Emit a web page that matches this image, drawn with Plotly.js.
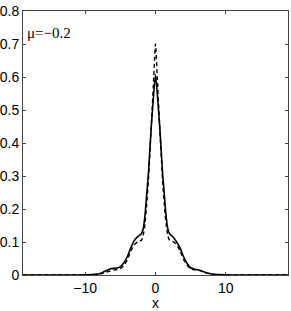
<!DOCTYPE html>
<html>
<head>
<meta charset="utf-8">
<script src="https://cdn.plot.ly/plotly-3.0.1.min.js"></script>
<style>html,body{margin:0;padding:0;background:#fff;}#chart{width:291px;height:311px;}</style>
</head>
<body>
<div id="chart"></div>
<script>
// x grid (shared)
const xVals = [-18.85, -14, -12, -10, -9, -8, -7.5, -7, -6.5, -6, -5.5, -5, -4.5, -4, -3.5, -3, -2.5, -2, -1.75, -1.5, -1.25, -1, -0.75, -0.5, -0.25, 0,
               0.25, 0.5, 0.75, 1, 1.25, 1.5, 1.75, 2, 2.5, 3, 3.5, 4, 4.5, 5, 5.5, 6, 6.5, 7, 7.5, 8, 9, 10, 12, 14, 18.85];
// solid curve
const solidVals = [0, 0, 0, 0.0005, 0.001, 0.004, 0.008, 0.013, 0.018, 0.02, 0.021, 0.025, 0.037, 0.056, 0.083, 0.105, 0.117, 0.125, 0.14, 0.18, 0.245, 0.31, 0.40, 0.48, 0.55, 0.607,
                   0.55, 0.48, 0.40, 0.31, 0.245, 0.18, 0.14, 0.125, 0.115, 0.10, 0.082, 0.055, 0.035, 0.022, 0.018, 0.016, 0.013, 0.009, 0.005, 0.003, 0.001, 0.0005, 0, 0, 0];
// dashed curve
const dashedVals = [0, 0, 0, 0.0005, 0.001, 0.003, 0.005, 0.008, 0.012, 0.015, 0.016, 0.019, 0.029, 0.047, 0.073, 0.092, 0.101, 0.105, 0.12, 0.155, 0.215, 0.29, 0.39, 0.49, 0.60, 0.70,
                    0.60, 0.49, 0.39, 0.29, 0.215, 0.155, 0.12, 0.105, 0.101, 0.092, 0.073, 0.047, 0.029, 0.019, 0.016, 0.015, 0.012, 0.008, 0.005, 0.003, 0.001, 0.0005, 0, 0, 0];
const xTicks = [-10, 0, 10];
const yTicks = [0, 0.1, 0.2, 0.3, 0.4, 0.5, 0.6, 0.7, 0.8];
const label = "μ=−0.2";

const traces = [
  {x: xVals, y: solidVals, mode: 'lines', line: {color: '#000', width: 1.6, shape: 'spline', smoothing: 0.6}, hoverinfo: 'skip'},
  {x: xVals, y: dashedVals, mode: 'lines', line: {color: '#000', width: 1.4, dash: '4px,3px', shape: 'spline', smoothing: 0.6}, hoverinfo: 'skip'}
];
const axFont = {family: '"Liberation Sans", Arial, sans-serif', size: 14, color: '#000'};
const layout = {
  width: 291, height: 311,
  margin: {l: 23, r: 3, t: 11, b: 36},
  paper_bgcolor: '#fff', plot_bgcolor: '#fff',
  showlegend: false,
  xaxis: {range: [-18.85, 18.85], tickvals: xTicks, ticktext: xTicks.map(v => v < 0 ? '−' + Math.abs(v) : String(v)),
          ticks: 'inside', ticklen: 3, tickcolor: '#444', showgrid: false, zeroline: false,
          showline: true, linecolor: '#444', linewidth: 1, mirror: 'ticks', tickfont: axFont,
          title: {text: 'x', font: axFont, standoff: 0}},
  yaxis: {range: [0, 0.8], tickvals: yTicks, ticktext: yTicks.map(v => v === 0 ? '0' : v.toFixed(1)),
          ticks: 'inside', ticklen: 3, tickcolor: '#444', showgrid: false, zeroline: false,
          showline: true, linecolor: '#444', linewidth: 1, mirror: 'ticks', tickfont: axFont},
  annotations: [{text: label, xref: 'paper', yref: 'paper', x: 0.008, y: 0.917, xanchor: 'left', yanchor: 'middle',
                 showarrow: false, font: {family: '"Liberation Serif", "Times New Roman", serif', size: 15, color: '#000'}}]
};
Plotly.newPlot('chart', traces, layout, {staticPlot: true, displayModeBar: false});
</script>
</body>
</html>
